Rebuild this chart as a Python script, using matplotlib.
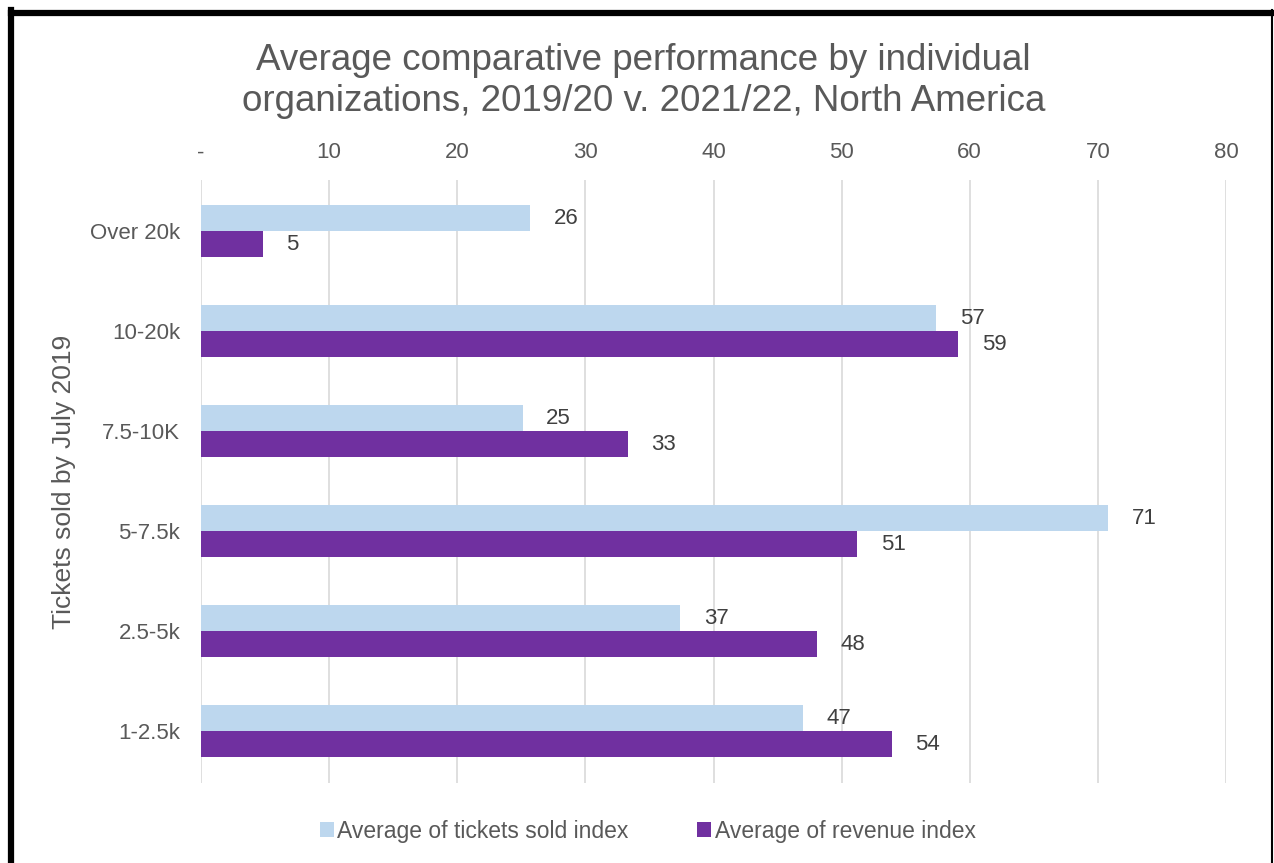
import matplotlib.pyplot as plt
from matplotlib.lines import Line2D
import numpy as np

plt.rcParams['font.family'] = ['Liberation Sans', 'DejaVu Sans']

# datos
categorias = ["Over 20k", "10-20k", "7.5-10K", "5-7.5k", "2.5-5k", "1-2.5k"]
tickets = [25.7, 57.4, 25.1, 70.8, 37.4, 47.0]
ingresos = [4.8, 59.1, 33.3, 51.2, 48.1, 53.9]
ticks_x = [0, 10, 20, 30, 40, 50, 60, 70, 80]
etiquetas_x = ["-", "10", "20", "30", "40", "50", "60", "70", "80"]

gris = "#595959"
azul = "#bdd7ee"
morado = "#7030a0"

fig = plt.figure(figsize=(12.74, 8.63), dpi=100)
ax = fig.add_axes([0.1578, 0.0927, 0.8045, 0.6987])

y = np.arange(len(categorias))
h = 0.26
ax.barh(y - h / 2, tickets, height=h, color=azul, label="Average of tickets sold index", zorder=3)
ax.barh(y + h / 2, ingresos, height=h, color=morado, label="Average of revenue index", zorder=3)

for yi, v in zip(y, tickets):
    ax.annotate(f"{v:.0f}", (v, yi - h / 2), xytext=(17, 0), textcoords="offset points",
                va="center", ha="left", fontsize=16, color="#404040")
for yi, v in zip(y, ingresos):
    ax.annotate(f"{v:.0f}", (v, yi + h / 2), xytext=(17, 0), textcoords="offset points",
                va="center", ha="left", fontsize=16, color="#404040")

ax.set_xlim(0, 80)
ax.set_ylim(5.52, -0.51)
ax.set_yticks(y)
ax.set_yticklabels(categorias, fontsize=16, color=gris)
ax.set_xticks(ticks_x)
ax.set_xticklabels(etiquetas_x, fontsize=16, color=gris)
ax.xaxis.tick_top()
ax.tick_params(axis="both", length=0)
ax.tick_params(axis="x", pad=12)
ax.tick_params(axis="y", pad=15)
ax.grid(axis="x", color="#d9d9d9", linewidth=1.2, zorder=0)
for s in ax.spines.values():
    s.set_visible(False)

ax.set_ylabel("Tickets sold by July 2019", fontsize=19, color=gris, labelpad=10)

fig.text(0.505, 0.906, "Average comparative performance by individual\norganizations, 2019/20 v. 2021/22, North America",
         ha="center", va="center", fontsize=26.5, color=gris, linespacing=1.24)

ax.legend(loc="center", bbox_to_anchor=(0.436, -0.080), ncol=2, frameon=False, fontsize=16.5,
          handlelength=0.6, handleheight=0.6, handletextpad=0.15, columnspacing=3, labelcolor=gris)

# marco negro (arriba e izquierda gruesos, derecha fino)
fig.add_artist(Line2D([0.0086, 1.0], [0.9855, 0.9855], transform=fig.transFigure, color="black", linewidth=4.5))
fig.add_artist(Line2D([0.0086, 0.0086], [0.0, 0.988], transform=fig.transFigure, color="black", linewidth=4.5))
fig.add_artist(Line2D([0.9985, 0.9985], [0.0, 0.988], transform=fig.transFigure, color="black", linewidth=1.5))

fig.savefig("out.png", dpi=100)
